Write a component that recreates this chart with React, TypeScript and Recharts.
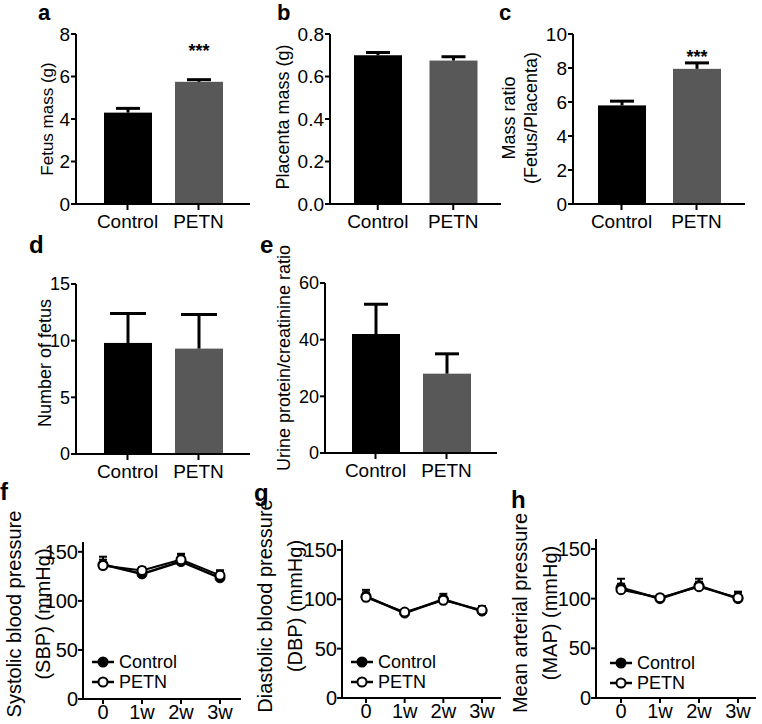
import React from 'react';
import { BarChart, Bar, Cell, LineChart, Line, XAxis, YAxis, ErrorBar, Legend } from 'recharts';

// groups for bar panels
const groups = ['Control', 'PETN'];

// a - fetus mass (g)
const fetusMass = [4.3, 5.75];
const fetusMassErr = [0.2, 0.1];
const fetusMassSig = ['', '***'];
// b - placenta mass (g)
const placentaMass = [0.7, 0.675];
const placentaMassErr = [0.013, 0.018];
// c - fetus / placenta ratio
const massRatio = [5.8, 7.95];
const massRatioErr = [0.25, 0.35];
const massRatioSig = ['', '***'];
// d - number of fetus
const fetusCount = [9.8, 9.3];
const fetusCountErr = [2.6, 3.0];
// e - urine protein / creatinine
const urineRatio = [42, 28];
const urineRatioErr = [10.5, 7];

// f-h timepoints
const weeks = ['0', '1w', '2w', '3w'];
const sbpControl = [137, 127.5, 140, 123.5];
const sbpControlErr = [8, 5, 8, 7.5];
const sbpPetn = [136, 131, 142, 126];
const sbpPetnErr = [6, 3, 5, 5];
const dbpControl = [103, 86, 100, 88];
const dbpControlErr = [6.5, 3, 5.5, 5];
const dbpPetn = [102, 87, 99, 89];
const dbpPetnErr = [5, 2, 4, 4];
const mapControl = [111, 100, 113, 100];
const mapControlErr = [9, 3, 7, 7];
const mapPetn = [109, 101, 112, 101];
const mapPetnErr = [6, 2, 5, 5];

// tick values
const ticksA = [0, 2, 4, 6, 8];
const ticksB = [0, 0.2, 0.4, 0.6, 0.8];
const ticksC = [0, 2, 4, 6, 8, 10];
const ticksD = [0, 5, 10, 15];
const ticksE = [0, 20, 40, 60];
const ticksBP = [0, 50, 100, 150];

const FONT = '"Liberation Sans", Arial, Helvetica, sans-serif';
const GREY = '#585858';
const barFills = ['#000000', GREY];
const axisStyle = { stroke: '#000', strokeWidth: 2 };

const toBars = (values: number[], errs: number[], sig?: string[]) =>
  groups.map((g, i) => ({ group: g, value: values[i], err: errs[i], sig: sig ? sig[i] : '' }));

const toLines = (c: number[], ce: number[], p: number[], pe: number[]) =>
  weeks.map((w, i) => ({ week: w, control: c[i], controlErr: [0, ce[i]], petn: p[i], petnErr: [0, pe[i]] }));

const makeBarShape = (cap: number, starDy: number) => (props: any) => {
  const { x, y, width, height, fill, payload } = props;
  const cx = x + width / 2;
  const errPx = payload.value ? (height * payload.err) / payload.value : 0;
  const top = y - errPx;
  return (
    <g>
      <rect x={x} y={y} width={width} height={height} fill={fill} />
      <line x1={cx} x2={cx} y1={y} y2={top} stroke="#000" strokeWidth={3} />
      <line x1={cx - cap} x2={cx + cap} y1={top} y2={top} stroke="#000" strokeWidth={3} />
      {payload.sig ? (
        <text x={cx} y={top - starDy} textAnchor="middle" fontFamily={FONT} fontWeight="bold" fontSize={18} fill="#000">
          {payload.sig}
        </text>
      ) : null}
    </g>
  );
};

function AxisTitle({ lines, xs, y, size }: { lines: string[]; xs: number[]; y: number; size: number }) {
  return (
    <g>
      {lines.map((t, i) => (
        <text
          key={i}
          x={xs[i]}
          y={y}
          transform={`rotate(-90 ${xs[i]} ${y})`}
          textAnchor="middle"
          dominantBaseline="central"
          fontFamily={FONT}
          fontSize={size}
          fill="#000"
        >
          {t}
        </text>
      ))}
    </g>
  );
}

type BarPanelProps = {
  left: number; top: number; width: number; height: number;
  axisX: number; plotTop: number; plotBottom: number; plotRight: number; pad: number;
  data: any[]; ticks: number[]; decimals?: number; tickFont: number;
  title: string[]; titleX: number[]; titleY: number; titleSize: number;
  cap: number; starDy?: number;
};

function BarPanel(p: BarPanelProps) {
  const top = p.ticks[p.ticks.length - 1];
  const shape = makeBarShape(p.cap, p.starDy ?? 0);
  return (
    <div style={{ position: 'absolute', left: p.left, top: p.top }}>
      <BarChart
        width={p.width}
        height={p.height}
        data={p.data}
        margin={{ top: p.plotTop - p.top, right: p.left + p.width - p.plotRight, left: 0, bottom: 0 }}
        barSize={48}
      >
        <XAxis
          dataKey="group"
          height={p.top + p.height - p.plotBottom}
          padding={{ left: p.pad, right: p.pad }}
          axisLine={axisStyle}
          tickLine={axisStyle}
          tickSize={6}
          tickMargin={5}
          tick={{ fill: '#000', fontSize: 19, fontFamily: FONT }}
        />
        <YAxis
          width={p.axisX - p.left}
          domain={[0, top]}
          ticks={p.ticks}
          interval={0}
          axisLine={axisStyle}
          tickLine={axisStyle}
          tickSize={5}
          tickMargin={1}
          tickFormatter={(v: number) => (p.decimals ? v.toFixed(p.decimals) : String(v))}
          tick={{ fill: '#000', fontSize: p.tickFont, fontFamily: FONT }}
          label={{
            content: () => (
              <AxisTitle lines={p.title} xs={p.titleX.map((x) => x - p.left)} y={p.titleY - p.top} size={p.titleSize} />
            ),
          }}
        />
        <Bar dataKey="value" shape={shape} isAnimationActive={false}>
          {p.data.map((_, i) => (
            <Cell key={i} fill={barFills[i]} />
          ))}
        </Bar>
      </BarChart>
    </div>
  );
}

const seriesDot: Record<string, string> = { Control: '#000', PETN: '#fff' };

const renderLegend = (props: any) => {
  const items = props.payload || [];
  return (
    <div style={{ fontFamily: FONT }}>
      {items.map((e: any) => (
        <div key={e.value} style={{ display: 'flex', alignItems: 'center', height: 20 }}>
          <svg width={22} height={14}>
            <line x1={0} x2={22} y1={7} y2={7} stroke="#000" strokeWidth={2.5} />
            <circle cx={11} cy={7} r={4.5} fill={seriesDot[e.value]} stroke="#000" strokeWidth={2} />
          </svg>
          <span style={{ marginLeft: 5, fontSize: 18, lineHeight: '20px', color: '#000' }}>{e.value}</span>
        </div>
      ))}
    </div>
  );
};

type LinePanelProps = {
  left: number; top: number; width: number; height: number;
  axisX: number; plotTop: number; plotBottom: number; plotRight: number; padL: number; padR: number;
  data: any[]; title: string[]; titleX: number[]; titleY: number;
  legendX: number; legendY: number;
};

function LinePanel(p: LinePanelProps) {
  return (
    <div style={{ position: 'absolute', left: p.left, top: p.top }}>
      <LineChart
        width={p.width}
        height={p.height}
        data={p.data}
        margin={{ top: p.plotTop - p.top, right: p.left + p.width - p.plotRight, left: 0, bottom: 0 }}
      >
        <XAxis
          dataKey="week"
          height={p.top + p.height - p.plotBottom}
          padding={{ left: p.padL, right: p.padR }}
          axisLine={axisStyle}
          tickLine={axisStyle}
          tickSize={5}
          tickMargin={1}
          tick={{ fill: '#000', fontSize: 20, fontFamily: FONT }}
        />
        <YAxis
          width={p.axisX - p.left}
          domain={[0, 160]}
          ticks={ticksBP}
          interval={0}
          axisLine={axisStyle}
          tickLine={axisStyle}
          tickSize={5}
          tickMargin={0}
          tick={{ fill: '#000', fontSize: 20, fontFamily: FONT }}
          label={{
            content: () => (
              <AxisTitle lines={p.title} xs={p.titleX.map((x) => x - p.left)} y={p.titleY - p.top} size={20} />
            ),
          }}
        />
        <Legend
          layout="vertical"
          align="center"
          verticalAlign="middle"
          wrapperStyle={{ left: p.legendX - p.left, top: p.legendY - p.top - 10, width: 'auto', height: 'auto' }}
          content={renderLegend}
        />
        <Line
          dataKey="control"
          name="Control"
          stroke="#000"
          strokeWidth={2.5}
          dot={{ r: 5, fill: '#000', stroke: '#000', strokeWidth: 1 }}
          isAnimationActive={false}
        >
          <ErrorBar dataKey="controlErr" direction="y" width={4} stroke="#000" strokeWidth={2} />
        </Line>
        <Line
          dataKey="petn"
          name="PETN"
          stroke="#000"
          strokeWidth={2}
          dot={{ r: 4.5, fill: '#fff', stroke: '#000', strokeWidth: 2 }}
          isAnimationActive={false}
        >
          <ErrorBar dataKey="petnErr" direction="y" width={4} stroke="#000" strokeWidth={2} />
        </Line>
      </LineChart>
    </div>
  );
}

const letters = [
  { t: 'a', x: 38, y: 20, s: 22 },
  { t: 'b', x: 277, y: 20, s: 22 },
  { t: 'c', x: 499, y: 20, s: 22 },
  { t: 'd', x: 29, y: 253, s: 24 },
  { t: 'e', x: 260, y: 253, s: 24 },
  { t: 'f', x: 0, y: 500, s: 24 },
  { t: 'g', x: 254, y: 501, s: 24 },
  { t: 'h', x: 511, y: 508, s: 24 },
];

export default function App() {
  return (
    <div style={{ position: 'absolute', left: 0, top: 0, width: 762, height: 724, background: '#fff', overflow: 'hidden' }}>
      <BarPanel
        left={0} top={0} width={254} height={232}
        axisX={76} plotTop={34} plotBottom={204} plotRight={250} pad={16}
        data={toBars(fetusMass, fetusMassErr, fetusMassSig)} ticks={ticksA} tickFont={19}
        title={['Fetus mass (g)']} titleX={[47]} titleY={119} titleSize={17}
        cap={12} starDy={23}
      />
      <BarPanel
        left={254} top={0} width={254} height={232}
        axisX={330} plotTop={34} plotBottom={204} plotRight={501} pad={10}
        data={toBars(placentaMass, placentaMassErr)} ticks={ticksB} decimals={1} tickFont={19}
        title={['Placenta mass (g)']} titleX={[283]} titleY={117} titleSize={18}
        cap={12}
      />
      <BarPanel
        left={490} top={0} width={272} height={232}
        axisX={573} plotTop={34} plotBottom={204} plotRight={745} pad={11}
        data={toBars(massRatio, massRatioErr, massRatioSig)} ticks={ticksC} tickFont={19}
        title={['Mass ratio', '(Fetus/Placenta)']} titleX={[509, 531]} titleY={118} titleSize={18}
        cap={12} starDy={0}
      />
      <BarPanel
        left={0} top={232} width={254} height={250}
        axisX={76} plotTop={284} plotBottom={454} plotRight={250} pad={16}
        data={toBars(fetusCount, fetusCountErr)} ticks={ticksD} tickFont={18}
        title={['Number of fetus']} titleX={[45]} titleY={363} titleSize={18}
        cap={18}
      />
      <BarPanel
        left={254} top={232} width={254} height={250}
        axisX={325} plotTop={283} plotBottom={453} plotRight={497} pad={15}
        data={toBars(urineRatio, urineRatioErr)} ticks={ticksE} tickFont={18}
        title={['Urine protein/creatinine ratio']} titleX={[284]} titleY={358} titleSize={18}
        cap={12}
      />
      <LinePanel
        left={0} top={480} width={254} height={244}
        axisX={83} plotTop={542} plotBottom={699} plotRight={241} padL={20} padR={21}
        data={toLines(sbpControl, sbpControlErr, sbpPetn, sbpPetnErr)}
        title={['Systolic blood pressure', '(SBP) (mmHg)']} titleX={[14, 43]} titleY={614}
        legendX={92} legendY={662}
      />
      <LinePanel
        left={254} top={480} width={254} height={244}
        axisX={342} plotTop={540} plotBottom={698} plotRight={501} padL={24} padR={19}
        data={toLines(dbpControl, dbpControlErr, dbpPetn, dbpPetnErr)}
        title={['Diastolic blood pressure', '(DBP) (mmHg)']} titleX={[265, 295]} titleY={606}
        legendX={351} legendY={662}
      />
      <LinePanel
        left={508} top={480} width={254} height={244}
        axisX={596} plotTop={539} plotBottom={698} plotRight={756} padL={25} padR={18}
        data={toLines(mapControl, mapControlErr, mapPetn, mapPetnErr)}
        title={['Mean arterial pressure', '(MAP) (mmHg)']} titleX={[520, 550]} titleY={613}
        legendX={610} legendY={663}
      />
      <svg width={762} height={724} style={{ position: 'absolute', left: 0, top: 0, pointerEvents: 'none' }}>
        {letters.map((l) => (
          <text key={l.t} x={l.x} y={l.y} fontFamily={FONT} fontWeight="bold" fontSize={l.s} fill="#000">
            {l.t}
          </text>
        ))}
      </svg>
    </div>
  );
}
